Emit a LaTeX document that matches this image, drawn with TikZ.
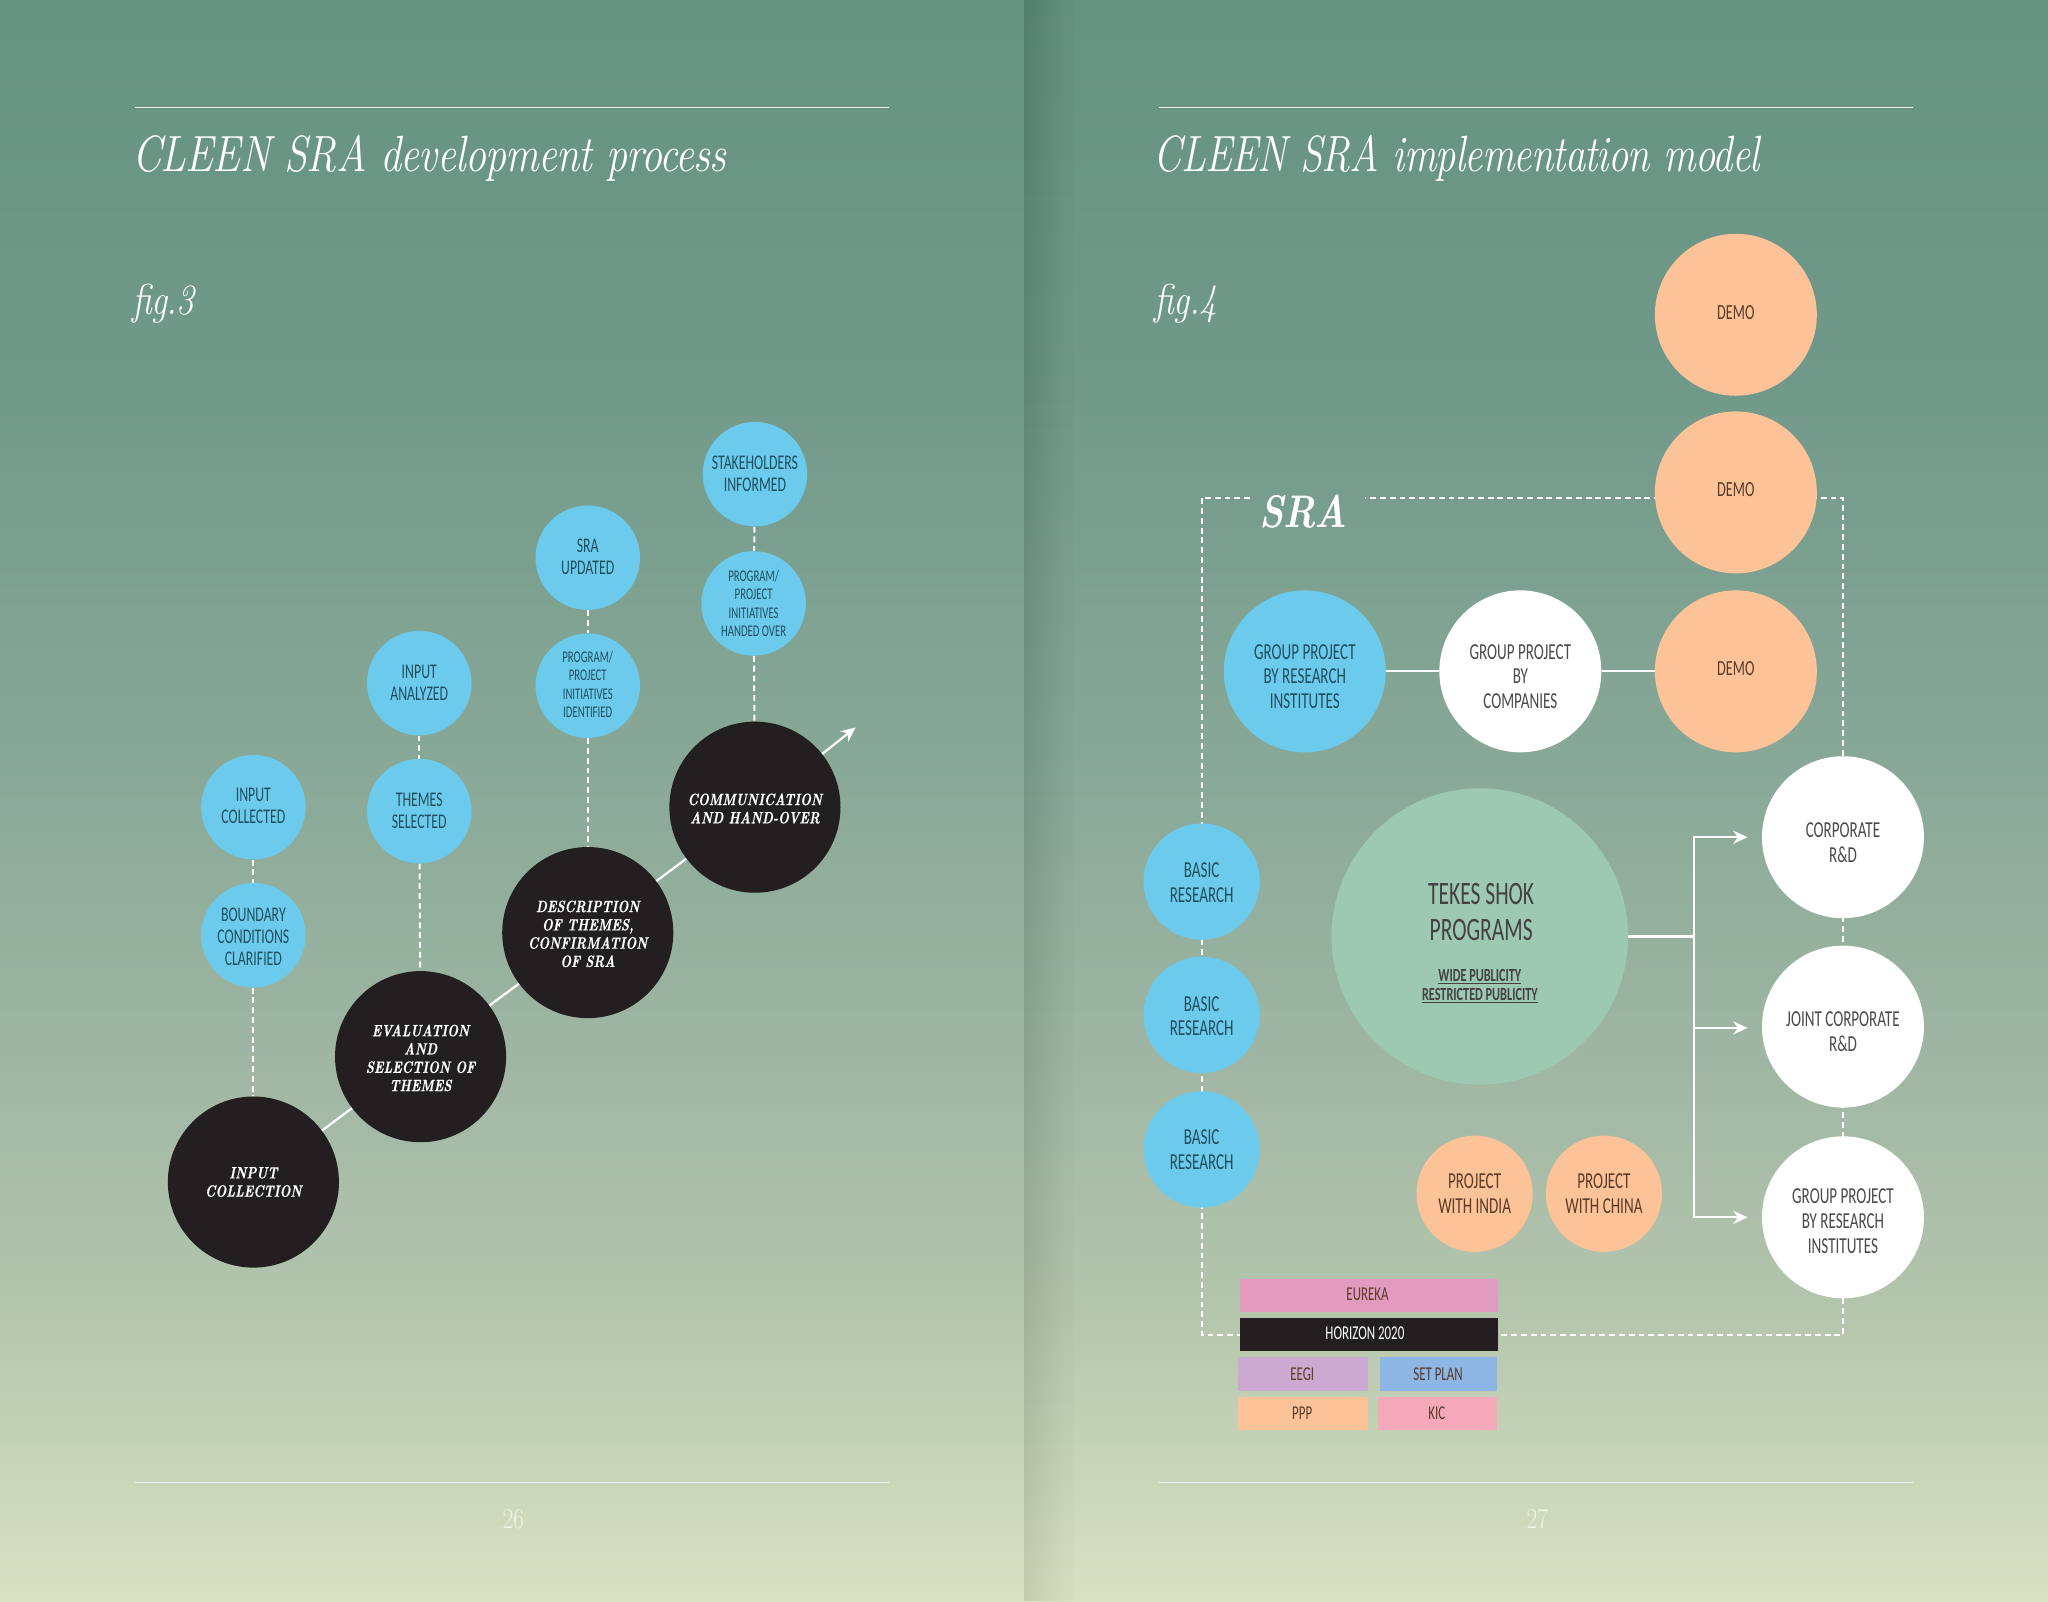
\documentclass[tikz,border=0pt]{standalone}
\usepackage{fontspec}
\usetikzlibrary{arrows.meta}
\newfontfamily\condf[FakeStretch=0.66]{Carlito}
\newfontfamily\didf[FakeStretch=0.825,LetterSpace=-1.5]{Latin Modern Roman}
\newfontfamily\didg[FakeStretch=0.795,LetterSpace=-1.5]{Latin Modern Roman}
\newfontfamily\widef[FakeStretch=0.77,FakeBold=0.6]{Latin Modern Roman}
\definecolor{bg0}{HTML}{65937F}
\definecolor{bg1}{HTML}{71998A}
\definecolor{bg2}{HTML}{8AA998}
\definecolor{bg3}{HTML}{9EB5A3}
\definecolor{bg4}{HTML}{B4C5AD}
\definecolor{bg5}{HTML}{D9E2C3}
\definecolor{cblue}{HTML}{6CCBEC}
\definecolor{cpeach}{HTML}{FBC397}
\definecolor{cmint}{HTML}{9DC9B3}
\definecolor{cblack}{HTML}{231F20}
\definecolor{tblue}{HTML}{1F4E5F}
\definecolor{tpeach}{HTML}{5A3B2A}
\definecolor{tgrey}{HTML}{4A4A4A}
\definecolor{cpink}{HTML}{E29ABE}
\definecolor{cviolet}{HTML}{CBA9D0}
\definecolor{csky}{HTML}{8DB6E4}
\definecolor{crose}{HTML}{F4A8BA}
\definecolor{pageno}{HTML}{F0F4E4}
\pgfdeclareverticalshading{bgs}{100bp}{color(0bp)=(bg5); color(25bp)=(bg5); color(34.2bp)=(bg4); color(42.4bp)=(bg3); color(50.5bp)=(bg2); color(62.8bp)=(bg1); color(75bp)=(bg0); color(100bp)=(bg0)}
\newcommand\cnd[5]{\node[#1] (#2) at (#3) {}; \node[#1,fill=none,minimum size=0pt,yshift=#4] (#2t) at (#2) {#5};}
\tikzset{
 x=1pt,y=-1pt,
 circ/.style={circle,inner sep=0pt,align=center},
 stagec/.style={circ,fill=cblack,text=white,minimum size=131pt,font=\fontsize{12.5}{14}\selectfont\widef\bfseries\itshape},
 blue80/.style={circ,fill=cblue,text=tblue,minimum size=80pt,font=\fontsize{16}{17}\selectfont\condf},
 blue80s/.style={circ,fill=cblue,text=tblue,minimum size=80pt,font=\fontsize{12.5}{14}\selectfont\condf},
 blue89/.style={circ,fill=cblue,text=tblue,minimum size=89pt,font=\fontsize{17.5}{19}\selectfont\condf},
 big124/.style={circ,minimum size=124pt,font=\fontsize{17.5}{19}\selectfont\condf},
 demo124/.style={circ,minimum size=124pt,fill=cpeach,text=tpeach,font=\fontsize{16.5}{19}\selectfont\condf},
 peach89/.style={circ,fill=cpeach,text=tpeach,minimum size=89pt,font=\fontsize{17.5}{19}\selectfont\condf},
 barbox/.style={inner sep=0pt,anchor=north west},
 bartext/.style={text=tpeach,inner sep=0pt,font=\fontsize{15}{16}\selectfont\condf},
 dashw/.style={draw=white,line width=1.5pt,dash pattern=on 4.5pt off 3pt},
 solidw/.style={draw=white,line width=1.7pt},
 arr/.style={solidw,-{Stealth[length=11pt,width=10pt]}},
 rulew/.style={draw=white!85!bg2,line width=0.9pt},
 titlet/.style={anchor=base west,inner sep=0pt,text=white,font=\fontsize{39}{40}\selectfont\itshape},
 figt/.style={anchor=base west,inner sep=0pt,text=white,font=\fontsize{33}{34}\selectfont\didf\itshape},
 pnum/.style={inner sep=0pt,text=pageno,font=\fontsize{22}{22}\selectfont\didf},
}
\begin{document}
\begin{tikzpicture}
\useasboundingbox (0,0) rectangle (1568,1226);
\path[shading=bgs] (0,0) rectangle (1568,1226);
\fill[black,opacity=.015] (784,0) rectangle (822,1226);
\foreach \i in {1,...,16} \fill[black,opacity=.004] (784,0) rectangle ({784+\i*2},1226);
% rules
\coordinate (l1a) at (103,82.5); \coordinate (l1b) at (681,82.5);
\coordinate (l2a) at (103,1135); \coordinate (l2b) at (681,1135);
\coordinate (l3a) at (887,82.5); \coordinate (l3b) at (1465,82.5);
\coordinate (l4a) at (887,1135); \coordinate (l4b) at (1465,1135);
\draw[rulew] (l1a)--(l1b); \draw[rulew] (l2a)--(l2b); \draw[rulew] (l3a)--(l3b); \draw[rulew] (l4a)--(l4b);
\node[titlet] (t1) at (101,131) {\didf CLEEN SRA development process};
\node[titlet] (t2) at (883,131) {\didg CLEEN SRA implementation model};
\node[figt] (f1) at (101,241) {fig.3};
\node[figt] (f2) at (884,241) {fig.4};
\node[pnum] (p1) at (393,1163) {26};
\node[pnum] (p2) at (1177,1163) {27};
% left page nodes
\cnd{stagec}{s1}{194,905}{0pt}{INPUT\\COLLECTION}
\cnd{stagec}{s2}{322,809}{-1pt}{EVALUATION\\AND\\SELECTION OF\\THEMES}
\cnd{stagec}{s3}{450,714}{-1pt}{DESCRIPTION\\OF THEMES,\\CONFIRMATION\\OF SRA}
\cnd{stagec}{s4}{578,618}{-1pt}{COMMUNICATION\\AND HAND-OVER}
\cnd{blue80}{a1}{194,618}{1pt}{INPUT\\COLLECTED}
\cnd{blue80}{a2}{194,716}{-1pt}{BOUNDARY\\CONDITIONS\\CLARIFIED}
\cnd{blue80}{b1}{321,523}{0pt}{INPUT\\ANALYZED}
\cnd{blue80}{b2}{321,621}{0pt}{THEMES\\SELECTED}
\cnd{blue80}{c1}{450,427}{1pt}{SRA\\UPDATED}
\cnd{blue80s}{c2}{450,525}{1pt}{PROGRAM/\\PROJECT\\INITIATIVES\\IDENTIFIED}
\cnd{blue80}{d1}{578,363}{0pt}{STAKEHOLDERS\\INFORMED}
\cnd{blue80s}{d2}{577,462}{0pt}{PROGRAM/\\PROJECT\\INITIATIVES\\HANDED OVER}
\coordinate (aend) at (655,557);
\draw[solidw] (s1)--(s2); \draw[solidw] (s2)--(s3); \draw[solidw] (s3)--(s4);
\draw[arr] (s4)--(aend);
\draw[dashw] (a1)--(a2); \draw[dashw] (a2)--(s1);
\draw[dashw] (b1)--(b2); \draw[dashw] (b2)--(s2);
\draw[dashw] (c1)--(c2); \draw[dashw] (c2)--(s3);
\draw[dashw] (d1)--(d2); \draw[dashw] (d2)--(s4);
% right page dashed frame
\coordinate (fa) at (957,381); \coordinate (fb) at (920,381); \coordinate (fc) at (920,1022);
\coordinate (fd) at (1411,1022); \coordinate (fe) at (1411,381); \coordinate (ff) at (1045,381);
\draw[dashw] (fa)--(fb)--(fc)--(fd)--(fe)--(ff);
\node[anchor=base,inner sep=0pt,text=white,font=\fontsize{35}{36}\selectfont\didf\bfseries\itshape] (sra) at (998,404) {SRA};
\cnd{demo124}{m1}{1329,241}{2pt}{DEMO}
\cnd{demo124}{m2}{1329,377}{2pt}{DEMO}
\cnd{demo124}{m3}{1329,514}{2pt}{DEMO}
\cnd{big124,fill=cblue,text=tblue}{g1}{999,514}{-4pt}{GROUP PROJECT\\BY RESEARCH\\INSTITUTES}
\cnd{big124,fill=white,text=tgrey}{g2}{1164,514}{-4pt}{GROUP PROJECT\\BY\\COMPANIES}
\draw[solidw] (g1)--(g2); \draw[solidw] (g2)--(m3);
\cnd{blue89}{r1}{920,675}{-1pt}{BASIC\\RESEARCH}
\cnd{blue89}{r2}{920,777}{-1pt}{BASIC\\RESEARCH}
\cnd{blue89}{r3}{920,880}{0pt}{BASIC\\RESEARCH}
\cnd{big124,fill=white,text=tgrey}{w1}{1411,641}{-4pt}{CORPORATE\\R\&D}
\cnd{big124,fill=white,text=tgrey}{w2}{1411,786}{-4pt}{JOINT CORPORATE\\R\&D}
\cnd{big124,fill=white,text=tgrey}{w3}{1411,932}{-3pt}{GROUP PROJECT\\BY RESEARCH\\INSTITUTES}
\node[circ,fill=cmint,minimum size=227pt] (tk) at (1133,717) {};
\node[inner sep=0pt,align=center,text=cblack!85,font=\fontsize{25}{27.5}\selectfont\condf] (tkt) at (1134,698) {TEKES SHOK\\PROGRAMS};
\node[inner sep=0pt,align=center,text=cblack!85,font=\fontsize{14.2}{14.5}\selectfont\condf\bfseries] (tkp) at (1133,755) {\underline{WIDE PUBLICITY}\\\underline{RESTRICTED PUBLICITY}};
\cnd{peach89}{pi}{1129,914}{0pt}{PROJECT\\WITH INDIA}
\cnd{peach89}{pc}{1228,914}{0pt}{PROJECT\\WITH CHINA}
% tekes branches
\coordinate (tr) at (1297,717);
\coordinate (q1) at (1338,641); \coordinate (q2) at (1338,787); \coordinate (q3) at (1338,932);
\draw[solidw] (tk)--(tr);
\draw[arr] (tr)|-(q1); \draw[arr] (tr)|-(q2); \draw[arr] (tr)|-(q3);
% bars
\node[barbox,fill=cpink,minimum width=198pt,minimum height=25pt] (e) at (949,979) {};
\node[bartext] (et) at (1047,991) {EUREKA};
\node[barbox,fill=cblack,minimum width=198pt,minimum height=25pt] (h) at (949,1009) {};
\node[bartext,text=white] (ht) at (1045,1021) {HORIZON 2020};
\node[barbox,fill=cviolet,minimum width=99pt,minimum height=26pt] (ee) at (948,1039) {};
\node[bartext] (eet) at (997,1052) {EEGI};
\node[barbox,fill=csky,minimum width=90pt,minimum height=26pt] (sp) at (1056,1039) {};
\node[bartext] (spt) at (1101,1052) {SET PLAN};
\node[barbox,fill=cpeach,minimum width=99pt,minimum height=26pt] (pp) at (948,1069) {};
\node[bartext] (ppt) at (997,1082) {PPP};
\node[barbox,fill=crose,minimum width=91pt,minimum height=26pt] (ki) at (1055,1069) {};
\node[bartext] (kit) at (1100,1082) {KIC};
\end{tikzpicture}
\end{document}
